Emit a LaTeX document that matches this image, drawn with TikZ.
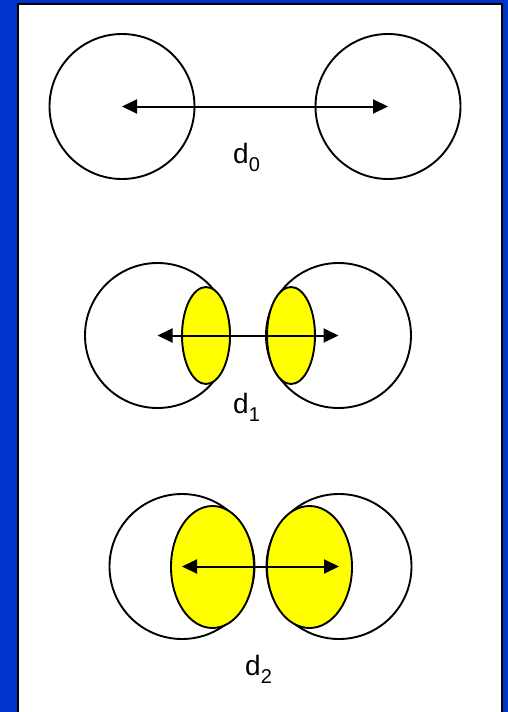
\documentclass[tikz,border=0pt]{standalone}
\usepackage{fontspec}
\setmainfont{Liberation Sans}
\usetikzlibrary{shapes.geometric,arrows.meta}
\definecolor{bgblue}{RGB}{0,51,204}
\definecolor{lensyellow}{RGB}{255,255,0}
\tikzset{
  atom/.style={circle,draw=black,line width=1.9pt,minimum size=145pt,inner sep=0pt},
  lens/.style={ellipse,draw=black,fill=lensyellow,line width=1.9pt,inner sep=0pt},
  dist/.style={line width=2pt,{Triangle[length=15pt,width=14pt]}-{Triangle[length=15pt,width=14pt]}},
  lbl/.style={anchor=base west,inner sep=0pt,font=\fontsize{28}{32}\selectfont},
}
\newcommand{\subtxt}[1]{\raisebox{-8pt}{\fontsize{20}{22}\selectfont #1}}
\begin{document}
\begin{tikzpicture}[x=1pt,y=-1pt]
\useasboundingbox (0,0) rectangle (508,712);
\fill[bgblue] (0,0) rectangle (508,712);
\draw[fill=white,line width=1.5pt] (18,4) rectangle (502,730);
% set 0
\node[atom] (a0l) at (122,106.5) {};
\node[atom] (a0r) at (388,106.5) {};
\draw[dist] (a0l.center) -- (a0r.center);
\node[lbl] (l0) at (233,163) {d\subtxt{0}};
% set 1
\node[atom] (a1l) at (157.5,335.5) {};
\node[atom] (a1r) at (338.5,335.5) {};
\node[lens,minimum width=48pt,minimum height=97pt] (e1l) at (206,335.5) {};
\node[lens,minimum width=48pt,minimum height=97pt] (e1r) at (291,335.5) {};
\draw[dist] (a1l.center) -- (a1r.center);
\node[lbl] (l1) at (233,413) {d\subtxt{1}};
% set 2
\node[atom] (a2l) at (182,566.5) {};
\node[atom] (a2r) at (339,566.5) {};
\node[lens,minimum width=83pt,minimum height=122pt] (e2l) at (212.5,567) {};
\node[lens,minimum width=85pt,minimum height=122pt] (e2r) at (309.5,567) {};
\draw[dist] (a2l.center) -- (a2r.center);
\node[lbl] (l2) at (245,675) {d\subtxt{2}};
\end{tikzpicture}
\end{document}
